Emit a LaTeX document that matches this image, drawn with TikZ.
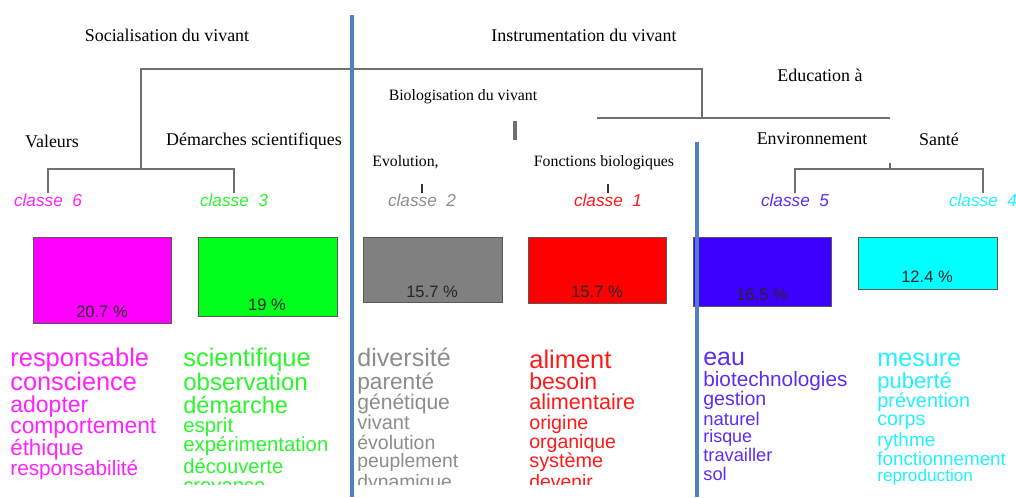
\documentclass[tikz,border=0pt]{standalone}
\usepackage{fontspec}
\setmainfont{Liberation Serif}
\setsansfont{Liberation Sans}
\usetikzlibrary{positioning}

\definecolor{divblue}{HTML}{4F81BD}
\definecolor{treegray}{HTML}{707070}
\definecolor{boxsix}{HTML}{FF00FF}
\definecolor{boxthree}{HTML}{00FF1A}
\definecolor{boxtwo}{HTML}{808080}
\definecolor{boxone}{HTML}{FF0000}
\definecolor{boxfive}{HTML}{3D00FF}
\definecolor{boxfour}{HTML}{00FFFF}
\definecolor{txtsix}{HTML}{FF22FF}
\definecolor{txtthree}{HTML}{2BF52B}
\definecolor{txttwo}{HTML}{8C8C8C}
\definecolor{txtone}{HTML}{FF1A1A}
\definecolor{txtfive}{HTML}{5A2DF5}
\definecolor{txtfour}{HTML}{22F0FF}

\begin{document}
\begin{tikzpicture}[
    x=0.02cm, y=-0.02cm,
    theme/.style={font=\fontsize{10.2}{12}\selectfont, inner sep=0pt},
    subtheme/.style={font=\fontsize{9}{11}\selectfont, inner sep=0pt},
    classe/.style={font=\sffamily\itshape\fontsize{9.8}{11}\selectfont, inner sep=0pt},
    tree/.style={draw=treegray, line width=1.1pt},
    divider/.style={draw=divblue, line width=2.3pt},
    bar/.style={draw=black!65, line width=0.5pt},
    pct/.style={font=\sffamily\fontsize{9.4}{11}\selectfont, text=black!85, inner sep=0pt},
    word/.style={inner sep=0pt, anchor=mid west}
]
    \useasboundingbox (0,0) rectangle (1016,497);

    % Themes
    \node[theme] (soc) at (167,35) {Socialisation du vivant};
    \node[theme] (instr) at (584,35) {Instrumentation du vivant};
    \node[subtheme] (bio) at (463,97) {Biologisation du vivant};
    \node[theme] (edu) at (820,75) {Education à};
    \node[theme] (val) at (52,141) {Valeurs};
    \node[theme] (dem) at (254,141) {Démarches scientifiques};
    \node[subtheme, anchor=west] (evo) at (372,162) {Evolution,};
    \node[subtheme] (fonc) at (604,163) {Fonctions biologiques};
    \node[theme] (env) at (812,139) {Environnement};
    \node[theme] (sante) at (939,139) {Santé};

    % Classes
    \node[classe, text=txtsix] (c6) at (48,200) {classe\ \ 6};
    \node[classe, text=txtthree] (c3) at (234,200) {classe\ \ 3};
    \node[classe, text=txttwo] (c2) at (422,200) {classe\ \ 2};
    \node[classe, text=txtone] (c1) at (608,200) {classe\ \ 1};
    \node[classe, text=txtfive] (c5) at (795,200) {classe\ \ 5};
    \node[classe, text=txtfour] (c4) at (983,200) {classe\ \ 4};

    % Dendrogram
    \coordinate (j63) at (141,169);
    \coordinate (top) at (141,69);
    \coordinate (topR) at (702,69);
    \coordinate (bioJ) at (702,118);
    \coordinate (bioL) at (597,118);
    \coordinate (eduJ) at (890,118);
    \coordinate (eduT) at (890,163);
    \coordinate (j54) at (890,169);
    \coordinate (bioT) at (515,121);
    \coordinate (bioB) at (515,140);
    \draw[tree] (c6.north) |- (j63) -| (c3.north);
    \draw[tree] (j63) -- (top) -- (topR) -- (bioJ);
    \draw[tree] (bioL) -- (eduJ);
    \draw[tree] (eduT) -- (j54);
    \draw[tree] (c5.north) |- (j54) -| (c4.north);
    \draw[tree, line width=1.8pt] (bioT) -- (bioB);
    \draw[black!80, line width=0.6pt] (c2.north) -- ++(0,-9);
    \draw[black!80, line width=0.6pt] (c1.north) -- ++(0,-9);

    % Class sizes
    \draw[bar, fill=boxsix] (33,237) rectangle (171,323);
    \node[pct] (p6) at (102,312) {20.7 \%};
    \draw[bar, fill=boxthree] (198,237) rectangle (337,316);
    \node[pct] (p3) at (267,305) {19 \%};
    \draw[bar, fill=boxtwo] (363,237) rectangle (502,302);
    \node[pct] (p2) at (432,292) {15.7 \%};
    \draw[bar, fill=boxone] (528,237) rectangle (666,303);
    \node[pct] (p1) at (597,292) {15.7 \%};
    \draw[bar, fill=boxfive] (693,237) rectangle (831,306);
    \node[pct] (p5) at (762,295) {16.5 \%};
    \draw[bar, fill=boxfour] (858,237) rectangle (997,289);
    \node[pct] (p4) at (927,277) {12.4 \%};

    % Word lists
    \begin{scope}
        \clip (0,330) rectangle (1016,484);
        \foreach \w/\y/\s [count=\i] in {responsable/362/14.5, conscience/386/14.4,
            adopter/408/13.1, comportement/429/13, éthique/451/12.7, responsabilité/471/11.8}
            \node[word, text=txtsix, font=\sffamily\fontsize{\s}{\s}\selectfont] (w6-\i) at (10,\y) {\w};
        \foreach \w/\y/\s [count=\i] in {scientifique/362/14.5, observation/386/13.7,
            démarche/409/13.4, esprit/428/11.6, expérimentation/447/11.6, découverte/469/11.5, croyance/488/11.5}
            \node[word, text=txtthree, font=\sffamily\fontsize{\s}{\s}\selectfont] (w3-\i) at (183,\y) {\w};
        \foreach \w/\y/\s [count=\i] in {diversité/362/14.3, parenté/385/12.9,
            génétique/405/12, vivant/425/11.4, évolution/445/11.1, peuplement/463/11, dynamique/484/11}
            \node[word, text=txttwo, font=\sffamily\fontsize{\s}{\s}\selectfont] (w2-\i) at (357,\y) {\w};
        \foreach \w/\y/\s [count=\i] in {aliment/364/14.5, besoin/385/13.1,
            alimentaire/405/12.3, origine/425/11.2, organique/444/11.1, système/463/11.3, devenir/484/11}
            \node[word, text=txtone, font=\sffamily\fontsize{\s}{\s}\selectfont] (w1-\i) at (529,\y) {\w};
        \foreach \w/\y/\s [count=\i] in {eau/361/14.2, biotechnologies/382/11.8,
            gestion/401/11.1, naturel/421/10.5, risque/438/10.2, travailler/457/10.4, sol/476/10.4}
            \node[word, text=txtfive, font=\sffamily\fontsize{\s}{\s}\selectfont] (w5-\i) at (703,\y) {\w};
        \foreach \w/\y/\s [count=\i] in {mesure/362/14.3, puberté/384/12.5,
            prévention/403/11.3, corps/421/11.2, rythme/442/10.8, fonctionnement/461/10.7, reproduction/477/9.8}
            \node[word, text=txtfour, font=\sffamily\fontsize{\s}{\s}\selectfont] (w4-\i) at (877,\y) {\w};
    \end{scope}

    % Dividers
    \draw[divider] (352,15) -- (352,497);
    \draw[divider] (697,142) -- (697,497);
\end{tikzpicture}
\end{document}
